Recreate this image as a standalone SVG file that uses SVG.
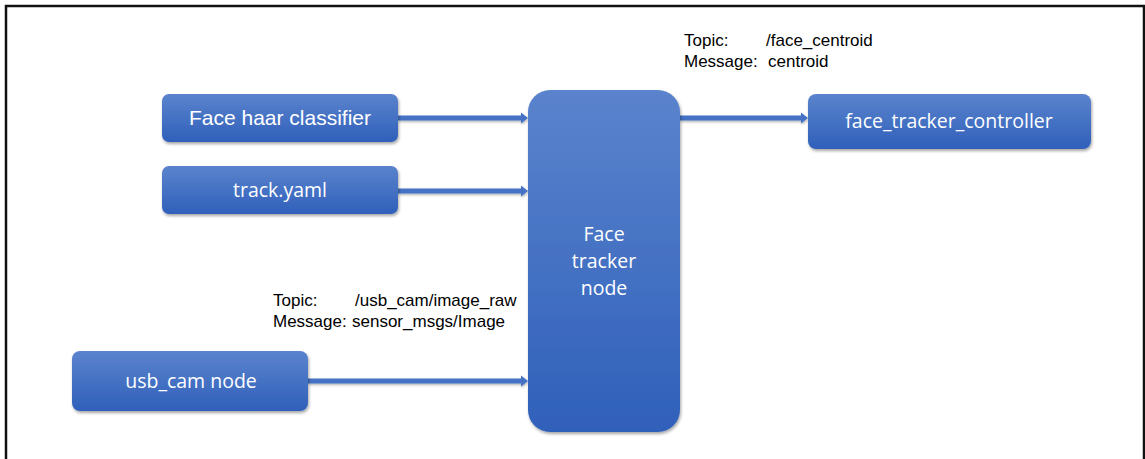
<svg xmlns="http://www.w3.org/2000/svg" width="1145" height="459" viewBox="0 0 1145 459">
  <defs>
    <linearGradient id="boxFill" x1="0" y1="0" x2="0" y2="1">
      <stop offset="0" stop-color="#5b83cd"/>
      <stop offset="1" stop-color="#2f60ba"/>
    </linearGradient>
    <filter id="shadow" x="-10%" y="-10%" width="120%" height="130%">
      <feDropShadow dx="1" dy="2" stdDeviation="1.5" flood-color="#000" flood-opacity="0.35"/>
    </filter>
    <filter id="lineShadow" filterUnits="userSpaceOnUse" x="0" y="0" width="1145" height="459">
      <feDropShadow dx="0.5" dy="1.5" stdDeviation="1" flood-color="#000" flood-opacity="0.3"/>
    </filter>
    <!-- small arrowhead, starts where the line stops -->
    <marker id="arrowHead" markerWidth="1.4" markerHeight="2.2" refX="0" refY="1.1" orient="auto" markerUnits="strokeWidth" overflow="visible">
      <path d="M0,0 L1.4,1.1 L0,2.2 Z" fill="#4472c4"/>
    </marker>
    <style>
      .box { fill: url(#boxFill); filter: url(#shadow); }
      .lbl { fill: #ffffff; font-family: "Open Sans", "Liberation Sans", sans-serif; font-size: 19.5px; text-anchor: middle; }
      .lblA { fill: #ffffff; font-family: "Liberation Sans", Arial, sans-serif; font-size: 21px; text-anchor: middle; }
      .note { fill: #000000; font-family: "Liberation Sans", Arial, sans-serif; font-size: 17px; }
      .conn { stroke: #4472c4; stroke-width: 5; fill: none; marker-end: url(#arrowHead); filter: url(#lineShadow); }
    </style>
  </defs>

  <rect x="0" y="0" width="1145" height="459" fill="#ffffff"/>
  <!-- outer frame -->
  <path d="M6,470 L6,6 L1144,6 L1144,470" fill="none" stroke="#111111" stroke-width="2.5"/>

  <g id="connectors">
    <line class="conn" x1="398" y1="118" x2="521" y2="118"/>
    <line class="conn" x1="398" y1="191" x2="521" y2="191"/>
    <line class="conn" x1="308" y1="381" x2="521" y2="381"/>
    <line class="conn" x1="680" y1="118" x2="801" y2="118"/>
  </g>

  <g id="face-haar-classifier">
    <rect class="box" x="162" y="94" width="236" height="48" rx="7"/>
    <text class="lblA" x="280" y="125">Face haar classifier</text>
  </g>

  <g id="track-yaml">
    <rect class="box" x="162" y="166" width="236" height="48" rx="7"/>
    <text class="lbl" x="280" y="197">track.yaml</text>
  </g>

  <g id="face-tracker-node">
    <rect class="box" x="528" y="90" width="152" height="342" rx="22"/>
    <text class="lbl" x="604" y="241">Face</text>
    <text class="lbl" x="604" y="268">tracker</text>
    <text class="lbl" x="604" y="295">node</text>
  </g>

  <g id="face-tracker-controller">
    <rect class="box" x="808" y="94" width="283" height="55" rx="8"/>
    <text class="lbl" x="949" y="128">face_tracker_controller</text>
  </g>

  <g id="usb-cam-node">
    <rect class="box" x="72" y="351" width="236" height="60" rx="8"/>
    <text class="lbl" x="191" y="388">usb_cam node</text>
  </g>

  <g id="topic-labels">
    <text class="note" x="684" y="46">Topic:</text>
    <text class="note" x="766" y="46">/face_centroid</text>
    <text class="note" x="684" y="67">Message:</text>
    <text class="note" x="768" y="67">centroid</text>

    <text class="note" x="273" y="306">Topic:</text>
    <text class="note" x="355" y="306">/usb_cam/image_raw</text>
    <text class="note" x="273" y="327">Message:</text>
    <text class="note" x="352" y="327">sensor_msgs/Image</text>
  </g>
</svg>
